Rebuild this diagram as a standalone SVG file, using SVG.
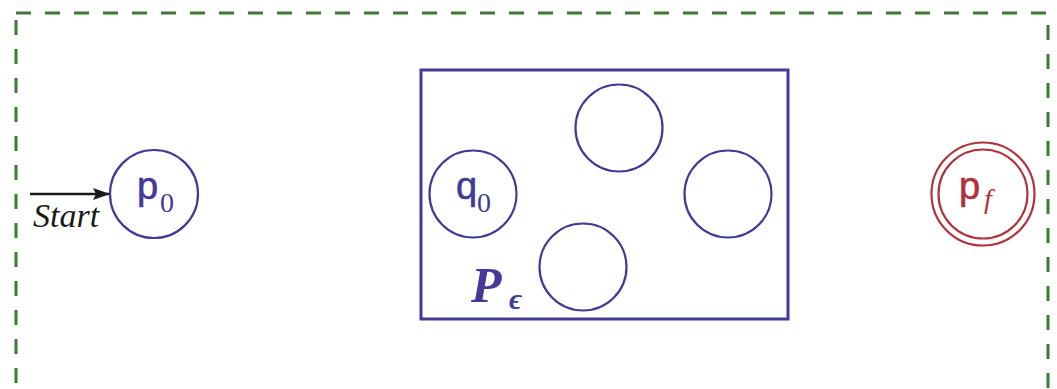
<svg xmlns="http://www.w3.org/2000/svg" width="1057" height="389" viewBox="0 0 1057 389">
<style>
.st{fill:none;stroke:#433a98;stroke-width:2.2}
.fin{fill:none;stroke:#b0323c;stroke-width:2.2}
.lbl{font-family:"Liberation Sans",Arial,sans-serif;font-size:38px;fill:#433a98;stroke:#433a98;stroke-width:0.6}
.sub{font-family:"Liberation Serif","Times New Roman",serif;font-size:28px;fill:#433a98}
</style>
<defs>
<marker id="ah" markerWidth="17" markerHeight="12" refX="17" refY="6" orient="auto" markerUnits="userSpaceOnUse">
<path d="M0,0 L17,6 L0,12 L3,6 Z" fill="#1a1a1a"/>
</marker>
</defs>
<rect x="16" y="13" width="1032" height="400" fill="none" stroke="#3a7a32" stroke-width="3" stroke-dasharray="15 14"/>
<g id="connectors">
<line x1="30" y1="194" x2="110" y2="194" stroke="#1a1a1a" stroke-width="2.5" marker-end="url(#ah)"/>
<text x="33" y="227" font-family="Liberation Serif,serif" font-style="italic" font-size="34" fill="#1a1a1a">Start</text>
</g>
<g id="p0">
<circle class="st" cx="154" cy="194" r="44"/>
<text class="lbl" x="137" y="199">p</text>
<text class="sub" x="160" y="212">0</text>
</g>
<g id="Peps">
<rect x="421" y="70" width="367" height="249" fill="none" stroke="#433a98" stroke-width="3"/>
<text x="471" y="302" font-family="Liberation Serif,serif" font-weight="bold" font-style="italic" font-size="50" fill="#433a98">P</text>
<text x="509" y="309" font-family="Liberation Serif,serif" font-weight="bold" font-style="italic" font-size="30" fill="#433a98">ϵ</text>
</g>
<g id="q0">
<circle class="st" cx="473" cy="194" r="43.5"/>
<text class="lbl" x="456" y="199">q</text>
<text class="sub" x="477" y="212">0</text>
</g>
<g id="s1"><circle class="st" cx="619" cy="128" r="43.5"/></g>
<g id="s2"><circle class="st" cx="728" cy="194" r="43.5"/></g>
<g id="s3"><circle class="st" cx="583" cy="267" r="43.5"/></g>
<g id="pf">
<circle class="fin" cx="983" cy="194" r="51.5"/>
<circle class="fin" cx="983" cy="194" r="44.5"/>
<text x="959" y="199" font-family="Liberation Sans,sans-serif" font-size="38" fill="#b0323c" stroke="#b0323c" stroke-width="0.6">p</text>
<text x="984" y="208" font-family="Liberation Serif,serif" font-style="italic" font-size="28" fill="#b0323c">f</text>
</g>
</svg>
